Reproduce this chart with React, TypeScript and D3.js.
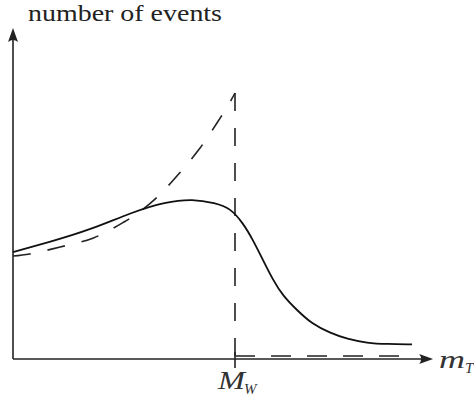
import React from "react";
import * as d3 from "d3";

// Solid curve: measured distribution (mT in arbitrary units, M_W = 80)
const solidX = [0, 13.3, 27.7, 43.2, 54.8, 64.9, 72.8, 78.2, 82.9, 86.5, 90.1, 93.7, 97.3, 102.3, 107.7, 114.2, 120.4, 127.6, 134.8, 143.8];
const solidY = [40.2, 44, 48.5, 55.3, 59, 60.2, 58.6, 56.8, 51.1, 44.7, 37.2, 29.7, 23.7, 18.4, 13.2, 9.8, 7.5, 6.0, 5.6, 5.5];

// Dashed curve: ideal distribution (Jacobian peak at M_W)
const dashX = [0, 6, 17, 29, 40, 45, 52, 60, 67.4, 73.5, 78.2, 80];
const dashY = [38.7, 39.5, 42.1, 45.5, 51.5, 54.9, 60.9, 69.9, 79.3, 88.7, 96.6, 100];

// Dashed tail beyond M_W
const tailX = [80, 144];
const tailY = [1.1, 1.1];

const MW = 80;
const axisXEnd = 151.4;
const axisYEnd = 124.4;

const yLabel = "number of events";

export default function App() {
  const W = 474;
  const H = 410;
  const x = d3.scaleLinear().domain([0, MW]).range([13, 235]);
  const y = d3.scaleLinear().domain([0, 100]).range([359, 93]);

  const lineSolid = d3
    .line<[number, number]>()
    .x((d) => x(d[0]))
    .y((d) => y(d[1]))
    .curve(d3.curveBasis);
  const lineDash = d3
    .line<[number, number]>()
    .x((d) => x(d[0]))
    .y((d) => y(d[1]))
    .curve(d3.curveCatmullRom.alpha(0.5));

  const solid = lineSolid(solidX.map((v, i) => [v, solidY[i]]) as [number, number][]) || "";
  const dashed = lineDash(dashX.map((v, i) => [v, dashY[i]]) as [number, number][]) || "";
  const tail = d3
    .line<[number, number]>()
    .x((d) => x(d[0]))
    .y((d) => y(d[1]))(tailX.map((v, i) => [v, tailY[i]]) as [number, number][]) || "";

  const x0 = x(0);
  const y0 = y(0);
  const xEnd = x(axisXEnd);
  const yEnd = y(axisYEnd);
  const xm = x(MW);

  const arrowUp = `M${x0},${yEnd} L${x0 + 5},${yEnd + 14} Q${x0},${yEnd + 10} ${x0 - 5},${yEnd + 14} Z`;
  const arrowRight = `M${xEnd},${y0} L${xEnd - 14},${y0 - 5} Q${xEnd - 10},${y0} ${xEnd - 14},${y0 + 5} Z`;

  const dash = "18 17";

  return (
    <svg
      width={W}
      height={H}
      style={{ position: "absolute", left: 0, top: 0, background: "#fff" }}
      fontFamily="'Liberation Serif', serif"
    >
      {/* axes */}
      <line x1={x0} y1={y0} x2={x0} y2={yEnd + 6} stroke="#222" strokeWidth={1.6} />
      <line x1={x0} y1={y0} x2={xEnd - 6} y2={y0} stroke="#222" strokeWidth={1.6} />
      <path d={arrowUp} fill="#222" />
      <path d={arrowRight} fill="#222" />
      {/* M_W tick */}
      <line x1={xm} y1={y0 - 7} x2={xm} y2={y0 + 9} stroke="#222" strokeWidth={1.6} />

      {/* vertical dashed line at M_W */}
      <line x1={xm} y1={y(100)} x2={xm} y2={y0} stroke="#222" strokeWidth={1.6} strokeDasharray={dash} />

      {/* curves */}
      <path d={dashed} fill="none" stroke="#222" strokeWidth={1.6} strokeDasharray={dash} />
      <path d={tail} fill="none" stroke="#222" strokeWidth={1.6} strokeDasharray="20 16" />
      <path d={solid} fill="none" stroke="#111" strokeWidth={1.8} />

      {/* labels */}
      <text x={28} y={21} fontSize={24} fill="#222" textLength={194} lengthAdjust="spacingAndGlyphs">
        {yLabel}
      </text>
      <text x={439} y={368} fontSize={26} fontStyle="italic" fill="#333" textLength={26} lengthAdjust="spacingAndGlyphs">
        m
      </text>
      <text x={465} y={373} fontSize={15} fontStyle="italic" fill="#333">
        T
      </text>
      <text x={218} y={389} fontSize={26} fontStyle="italic" fill="#333" textLength={27} lengthAdjust="spacingAndGlyphs">
        M
      </text>
      <text x={244} y={394} fontSize={15} fontStyle="italic" fill="#333">
        W
      </text>
    </svg>
  );
}
